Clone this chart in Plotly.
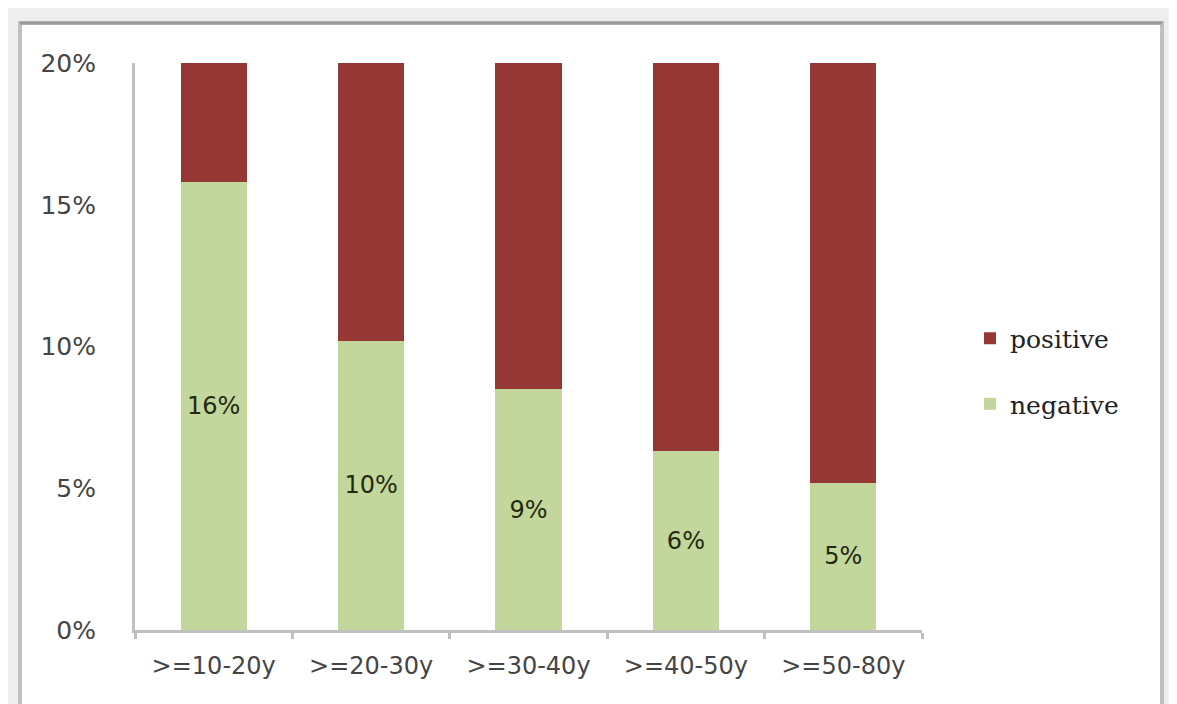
import plotly.graph_objects as go

categories = [">=10-20y", ">=20-30y", ">=30-40y", ">=40-50y", ">=50-80y"]
negative = [15.8, 10.2, 8.5, 6.3, 5.2]
positive = [100 - v for v in negative]
neg_labels = ["16%", "10%", "9%", "6%", "5%"]
y_ticks = [0, 5, 10, 15, 20]
y_tick_text = ["0%", "5%", "10%", "15%", "20%"]

RED = "#953735"
GREEN = "#c3d69b"

fig = go.Figure()
fig.add_trace(go.Bar(
    x=categories, y=negative, name="negative", marker_color=GREEN,
    marker_line_width=0, text=neg_labels, textposition="inside",
    insidetextanchor="middle", textangle=0,
    textfont=dict(family="DejaVu Sans", size=24, color="#1f2a12"),
    legendgroup="neg", legendrank=2, hoverinfo="skip",
))
fig.add_trace(go.Bar(
    x=categories, y=positive, name="positive", marker_color=RED,
    marker_line_width=0, legendgroup="pos", legendrank=1, hoverinfo="skip",
))

W, H = 1177, 704
OFF = 8  # page body offset
# absolute pixel positions of plot area in the screenshot
AX_L, AX_R, AX_T, AX_B = 135, 922, 63, 630
L = AX_L - OFF
T = AX_T - OFF
R = W - (AX_R - OFF)
B = H - (AX_B - OFF)
pw, ph = AX_R - AX_L, AX_B - AX_T

def px_x(p):
    return (p - AX_L) / pw

def px_y(p):
    return (AX_B - p) / ph

fig.add_shape(type="rect", xref="paper", yref="paper",
              x0=px_x(20), x1=px_x(1162), y0=px_y(760), y1=px_y(23),
              fillcolor="white", line=dict(color="#c0c0c0", width=4), layer="below")
fig.add_shape(type="line", xref="paper", yref="paper",
              x0=px_x(20), x1=px_x(1162), y0=px_y(23), y1=px_y(23),
              line=dict(color="#9a9a9a", width=3), layer="below")

fig.update_layout(
    width=W, height=H,
    barmode="stack", bargap=0.58,
    margin=dict(l=L, r=R, t=T, b=B),
    paper_bgcolor="#eeeeee", plot_bgcolor="rgba(0,0,0,0)",
    showlegend=True,
    legend=dict(x=px_x(970), xanchor="left", y=px_y(371), yanchor="middle",
                font=dict(family="DejaVu Serif", size=25, color="#222222"),
                traceorder="grouped", tracegroupgap=30,
                bgcolor="rgba(0,0,0,0)"),
    font=dict(family="DejaVu Sans", size=24, color="#454545"),
)
fig.update_xaxes(
    showline=True, linecolor="#c0c0c0", linewidth=3,
    ticks="outside", tickson="boundaries", ticklen=6, tickwidth=3, tickcolor="#c0c0c0",
    showgrid=False, tickfont=dict(family="DejaVu Sans", size=24, color="#454545"),
    ticklabelstandoff=12, fixedrange=True,
)
fig.update_yaxes(
    range=[0, 20], tickmode="array", tickvals=y_ticks, ticktext=y_tick_text,
    showline=True, linecolor="#c0c0c0", linewidth=3,
    ticks="", showgrid=False, zeroline=False,
    tickfont=dict(family="DejaVu Sans", size=25, color="#454545"),
    ticklabelstandoff=31, fixedrange=True,
)

fig.write_html("out.html", config={"displayModeBar": False})
